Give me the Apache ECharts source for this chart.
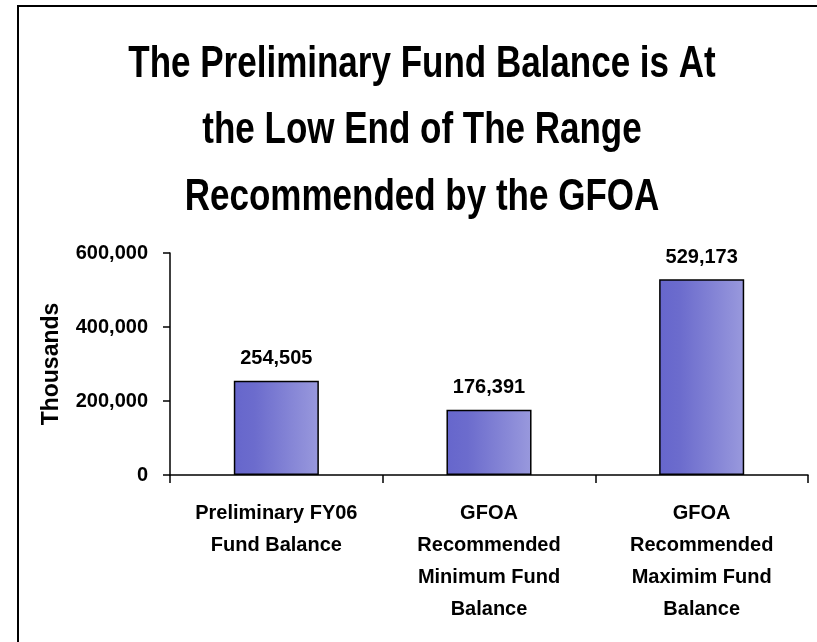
<!DOCTYPE html>
<html>
<head>
<meta charset="utf-8">
<script src="https://cdn.jsdelivr.net/npm/echarts@6/dist/echarts.min.js"></script>
<style>
  html, body { margin: 0; padding: 0; background: #fff; }
  #chart { width: 817px; height: 642px; }
</style>
</head>
<body>
<div id="chart"></div>
<script>
  // data
  var categories = [
    'Preliminary FY06\nFund Balance',
    'GFOA\nRecommended\nMinimum Fund\nBalance',
    'GFOA\nRecommended\nMaximim Fund\nBalance'
  ];
  var balances = [254505, 176391, 529173];
  var yTicks = { min: 0, max: 600000, interval: 200000 };
  var titleText = 'The Preliminary Fund Balance is At\nthe Low End of The Range\nRecommended by the GFOA';

  var font = '"Liberation Sans", Arial, sans-serif';
  var fmt = function (v) { return Number(v).toLocaleString('en-US'); };

  var myChart = echarts.init(document.getElementById('chart'));
  myChart.setOption({
    backgroundColor: '#fff',
    animation: false,
    graphic: [{
      type: 'rect',
      shape: { x: 18, y: 6, width: 900, height: 800 },
      style: { fill: 'none', stroke: '#000', lineWidth: 2 },
      silent: true
    }, {
      // title is drawn a bit taller than wide, like the original slide
      type: 'text',
      x: 422,
      y: 32,
      scaleY: 1.25,
      silent: true,
      style: {
        text: titleText,
        x: 0,
        y: 0,
        align: 'center',
        verticalAlign: 'top',
        font: 'bold 35px "Liberation Sans", Arial, sans-serif',
        lineHeight: 53,
        fill: '#000'
      }
    }],
    grid: { left: 170, right: 9, top: 253, bottom: 167 },
    xAxis: {
      type: 'category',
      data: categories,
      axisLine: { lineStyle: { color: '#000', width: 1.5 } },
      axisTick: { show: true, length: 8, lineStyle: { color: '#000', width: 1.5 } },
      axisLabel: {
        interval: 0,
        margin: 22,
        fontFamily: font,
        fontWeight: 'bold',
        fontSize: 20,
        lineHeight: 32,
        color: '#000'
      }
    },
    yAxis: {
      type: 'value',
      min: yTicks.min,
      max: yTicks.max,
      interval: yTicks.interval,
      name: 'Thousands',
      nameLocation: 'middle',
      nameRotate: 90,
      nameGap: 107,
      nameTextStyle: {
        fontFamily: font,
        fontWeight: 'bold',
        fontSize: 23,
        color: '#000'
      },
      splitLine: { show: false },
      axisLine: { show: true, lineStyle: { color: '#000', width: 1.5 } },
      axisTick: { show: true, length: 7, lineStyle: { color: '#000', width: 1.5 } },
      axisLabel: {
        margin: 22,
        formatter: fmt,
        fontFamily: font,
        fontWeight: 'bold',
        fontSize: 20,
        color: '#000'
      }
    },
    series: [{
      type: 'bar',
      data: balances,
      barWidth: '40%',
      itemStyle: {
        color: new echarts.graphic.LinearGradient(0, 0, 1, 0, [
          { offset: 0, color: '#6666cc' },
          { offset: 0.25, color: '#6c6ccd' },
          { offset: 1, color: '#9999dd' }
        ]),
        borderColor: '#000',
        borderWidth: 1.5
      },
      label: {
        show: true,
        position: 'top',
        distance: 12,
        formatter: function (p) { return fmt(p.value); },
        fontFamily: font,
        fontWeight: 'bold',
        fontSize: 20,
        color: '#000'
      }
    }]
  });
</script>
</body>
</html>
